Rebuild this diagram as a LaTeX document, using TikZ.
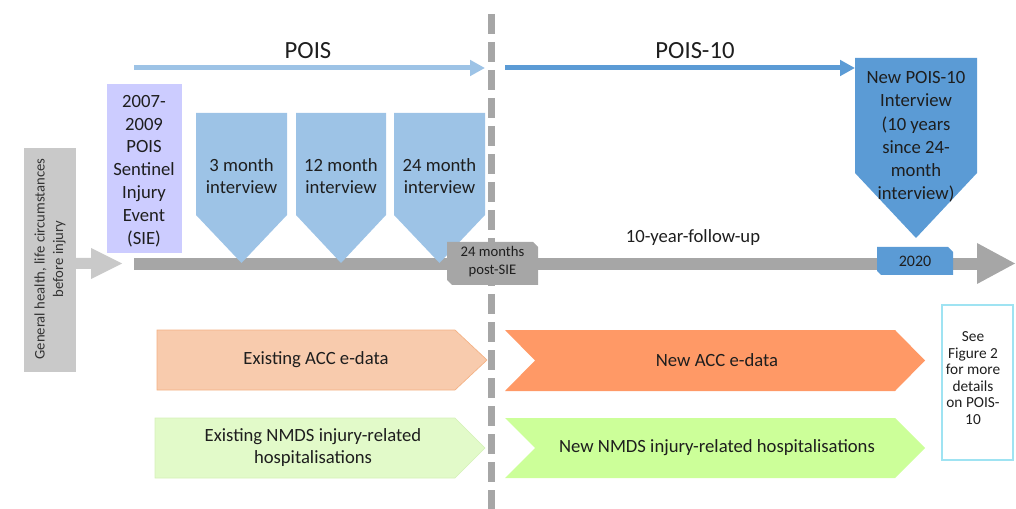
\documentclass[tikz,border=0pt]{standalone}
\usepackage{fontspec}
\setmainfont{Carlito}
\usetikzlibrary{arrows.meta}
\definecolor{tlgrey}{HTML}{A6A6A6}
\definecolor{boxgrey}{HTML}{C9C9C9}
\definecolor{lav}{HTML}{CCCCFF}
\definecolor{lblue}{HTML}{9DC3E6}
\definecolor{mblue}{HTML}{5B9BD5}
\definecolor{salmon}{HTML}{F8CBAD}
\definecolor{salmonb}{HTML}{F4B183}
\definecolor{orng}{HTML}{FF9966}
\definecolor{lgreen}{HTML}{E2FAC9}
\definecolor{lgreenb}{HTML}{D5F0B8}
\definecolor{green2}{HTML}{CCFF99}
\definecolor{txt}{HTML}{1E1E1E}
\definecolor{txtg}{HTML}{333333}
\definecolor{cyanb}{HTML}{9FE3F2}
\tikzset{
  f14/.style={font=\fontsize{14}{16.8}\selectfont},
  lbl/.style={text=txt, align=center, inner sep=0pt},
  arrowline/.style={line width=3.75pt},
}
\begin{document}
\begin{tikzpicture}[x=0.75pt,y=-0.75pt, f14]
\useasboundingbox (0,0) rectangle (1016,509);

% dashed divider
\coordinate (divT) at (491,14);
\coordinate (divB) at (491,509);
\draw[tlgrey, line width=5.25pt, dash pattern=on 15pt off 6pt] (divT) -- (divB);

% pre-injury box
\fill[boxgrey] (24,148) rectangle (76,372);
\node[lbl, rotate=90, text=txtg, font=\fontsize{11}{14}\selectfont] (pre) at (50,259) {General health, life circumstances\\before injury};
\fill[boxgrey] (76,258) -- (91,258) -- (91,248) -- (122,263.5) -- (91,279) -- (91,269) -- (76,269) -- cycle;

% main timeline
\fill[tlgrey] (134,258) rectangle (977,270);
\fill[tlgrey] (977,243) -- (1015,263.5) -- (977,284) -- cycle;

% SIE box
\fill[lav] (107,84) rectangle (182,253);
\node[lbl, font=\fontsize{14}{17.1}\selectfont] (sie) at (144,171) {2007-\\2009\\POIS\\Sentinel\\Injury\\Event\\(SIE)};

% interview pentagons
\fill[lblue] (196,113) -- (287,113) -- (287,215) -- (241.5,263) -- (196,215) -- cycle;
\node[lbl] (i3) at (241.5,176) {3 month\\interview};
\fill[lblue] (296,113) -- (386,113) -- (386,215) -- (341,263) -- (296,215) -- cycle;
\node[lbl] (i12) at (341,176) {12 month\\interview};
\fill[lblue] (394,113) -- (485,113) -- (485,215) -- (439.5,263) -- (394,215) -- cycle;
\node[lbl] (i24) at (439.5,176) {24 month\\interview};

% 24 months post-SIE
\fill[tlgrey] (447,242) -- (533,242) -- (538,247) -- (538,285) -- (452,285) -- (447,280) -- cycle;
\node[lbl, font=\fontsize{11}{13.2}\selectfont] (post) at (492.5,261.5) {24 months\\post-SIE};

% POIS arrows
\coordinate (pS) at (134,68);
\coordinate (pE) at (485,68);
\draw[lblue, arrowline, -{Triangle[length=11.25pt,width=11.5pt]}] (pS) -- (pE);
\node[lbl, font=\fontsize{18.5}{22}\selectfont] (pois) at (308,51) {POIS};

\coordinate (qS) at (505,68);
\coordinate (qE) at (855,68);
\draw[mblue, arrowline, -{Triangle[length=11.25pt,width=11.5pt]}] (qS) -- (qE);
\node[lbl, font=\fontsize{18.5}{22}\selectfont] (pois10) at (695,51) {POIS-10};

\node[lbl] (fu) at (693,238) {10-year-follow-up};

% new interview
\fill[mblue] (855,58) -- (977,58) -- (977,173) -- (916,238) -- (855,173) -- cycle;
\node[lbl, font=\fontsize{14}{17.4}\selectfont] (newint) at (916,137) {New POIS-10\\Interview\\(10 years\\since 24-\\month\\interview)};

% 2020
\fill[mblue] (877,247) -- (948,247) -- (953,252) -- (953,275) -- (881,275) -- (877,271) -- cycle;
\node[lbl, font=\fontsize{12}{14}\selectfont] (y2020) at (915,261) {2020};

% data arrows
\filldraw[fill=salmon, draw=salmonb, line width=0.5pt] (157,330) -- (455,330) -- (487,360) -- (455,390) -- (157,390) -- cycle;
\node[lbl] (eacc) at (316,360) {Existing ACC e-data};
\filldraw[fill=lgreen, draw=lgreenb, line width=0.5pt] (155,418) -- (455,418) -- (485,448) -- (455,478) -- (155,478) -- cycle;
\node[lbl, font=\fontsize{14}{16.5}\selectfont] (enmds) at (313,448) {Existing NMDS injury-related\\hospitalisations};

\fill[orng] (505,330) -- (895,330) -- (925,360.5) -- (895,391) -- (505,391) -- (535,360.5) -- cycle;
\node[lbl] (nacc) at (717,360) {New ACC e-data};
\fill[green2] (505,418) -- (895,418) -- (925,448) -- (895,478) -- (505,478) -- (535,448) -- cycle;
\node[lbl] (nnmds) at (717,448) {New NMDS injury-related hospitalisations};

% see figure 2
\draw[cyanb, line width=0.9pt] (942,305) rectangle (1013,460);
\node[lbl, font=\fontsize{11.5}{12.4}\selectfont] (see) at (973,378) {See\\Figure 2\\for more\\details\\on POIS-\\10};
\end{tikzpicture}
\end{document}
